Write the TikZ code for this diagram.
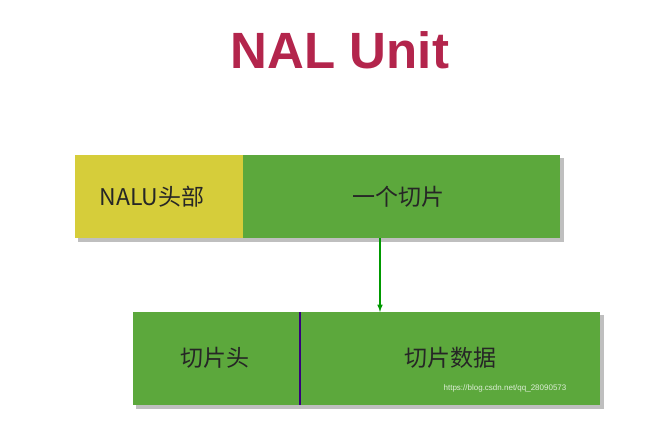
\documentclass[tikz,border=0pt]{standalone}
\usepackage{fontspec}
\setmainfont{Liberation Sans}
\newfontfamily\cjk{Noto Sans CJK SC}
\begin{document}
\begin{tikzpicture}[x=1pt,y=-1pt,
  lbl/.style={font=\cjk\fontsize{23}{26}\selectfont,text=black!85}]
\definecolor{grn}{HTML}{5CA83C}
\definecolor{ylw}{HTML}{D6CD3A}
\definecolor{ttl}{HTML}{B3254C}
\useasboundingbox[fill=white] (0,0) rectangle (650,440);
\node[font=\bfseries\fontsize{51}{56}\selectfont,text=ttl] (title) at (340,50) {NAL Unit};
% shadows
\fill[black!25] (78,158) rectangle (564,242);
\fill[black!25] (136,315) rectangle (604,409);
% top bar
\fill[ylw] (75,155) rectangle (243,238);
\fill[grn] (243,155) rectangle (560,238);
\node[lbl] (hdr) at (152,197) {NALU头部};
\node[lbl] (slice) at (398,197) {一个切片};
\coordinate (topb) at (380,238);
% bottom bar
\fill[grn] (133,312) rectangle (600,405);
\coordinate (bott) at (380,312);
\draw[line width=2.5pt,color=violet!60!blue!70!black] (300,312) -- (300,405);
\node[lbl] (sh) at (215,358) {切片头};
\node[lbl] (sd) at (450,358) {切片数据};
\node[font=\fontsize{8}{9}\selectfont,text=white!80!grn] (wm) at (505,388) {https://blog.csdn.net/qq\_28090573};
\draw[green!60!black,line width=1.5pt,-latex] (topb) -- (bott);
\end{tikzpicture}
\end{document}
